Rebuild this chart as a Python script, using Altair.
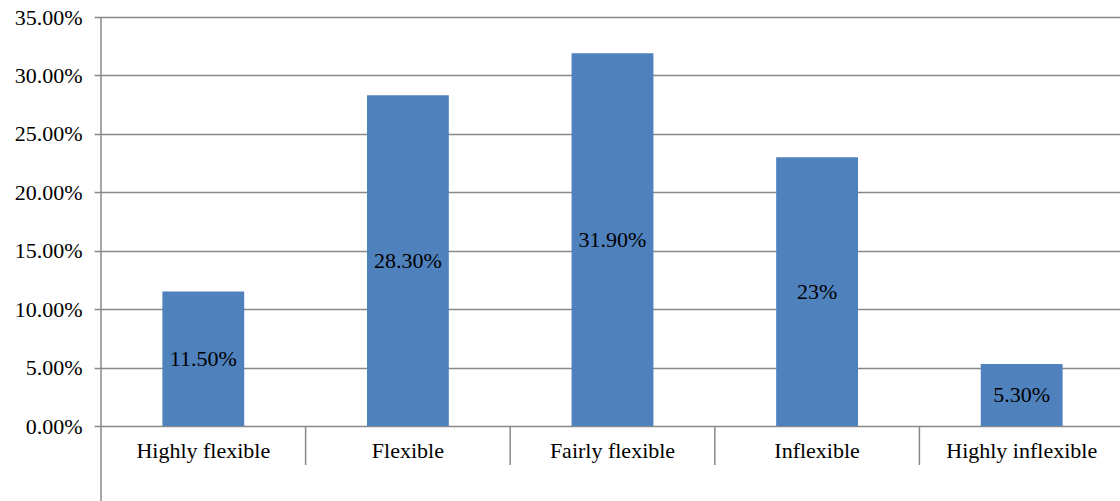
import altair as alt
import pandas as pd

# Survey responses: how flexible respondents rated the schedule
categories = ["Highly flexible", "Flexible", "Fairly flexible", "Inflexible", "Highly inflexible"]
shares = [0.115, 0.283, 0.319, 0.23, 0.053]
share_labels = ["11.50%", "28.30%", "31.90%", "23%", "5.30%"]
y_ticks = [0.0, 0.05, 0.10, 0.15, 0.20, 0.25, 0.30, 0.35]

df = pd.DataFrame({"category": categories, "share": shares, "label": share_labels})
df["mid"] = df["share"] / 2

FONT = "'Liberation Serif', 'Times New Roman', serif"
FONT_SIZE = 22
GRID = "#898989"
BAR = "#4F81BD"

PLOT_W = 1019          # visible plot area
BAND_SPAN = 1023       # category slots run slightly past the right edge
STEP = BAND_SPAN / len(categories)
PAD_INNER = 0.6

x_scale = alt.Scale(paddingInner=PAD_INNER, paddingOuter=PAD_INNER / 2, range=[0, BAND_SPAN])

x_enc = alt.X(
    "category:N",
    sort=categories,
    scale=x_scale,
    axis=alt.Axis(
        title=None, labelAngle=0, ticks=False, domain=False,
        labelFont=FONT, labelFontSize=FONT_SIZE, labelColor="black",
        labelPadding=14, labelLimit=0,
    ),
)

y_scale = alt.Scale(domain=[0, 0.35], nice=False)

bars = alt.Chart(df).mark_bar(color=BAR).encode(
    x=x_enc,
    y=alt.Y(
        "share:Q",
        scale=y_scale,
        axis=alt.Axis(
            title=None, values=y_ticks, format=".2%", domain=False,
            grid=True, gridColor=GRID, gridWidth=1.5,
            tickColor=GRID, tickWidth=1.5, tickSize=7,
            labelFont=FONT, labelFontSize=FONT_SIZE, labelColor="black",
            labelPadding=12,
        ),
    ),
)

labels = alt.Chart(df).mark_text(font=FONT, fontSize=FONT_SIZE, color="black").encode(
    x=alt.X("category:N", sort=categories),
    y=alt.Y("mid:Q", scale=y_scale),
    text="label:N",
)

# category separators below the baseline, at the start of each category slot
separators = alt.Chart(df.iloc[1:]).mark_rule(color=GRID, strokeWidth=1.5).encode(
    x=alt.X("category:N", sort=categories, bandPosition=0),
    xOffset=alt.value(-STEP * PAD_INNER / 2),
    y=alt.value(409),
    y2=alt.value(448),
)

# vertical axis line running past the baseline
axis_line = alt.Chart(df.iloc[:1]).mark_rule(color=GRID, strokeWidth=1.5).encode(
    x=alt.value(0),
    y=alt.value(0),
    y2=alt.value(484),
)

chart = (
    alt.layer(bars, labels, separators, axis_line)
    .properties(
        width=PLOT_W,
        height=409,
        autosize=alt.AutoSizeParams(type="none"),
        padding={"left": 101, "top": 17, "right": 0, "bottom": 75},
    )
    .configure_view(stroke=None)
)

chart.save("out.html", embed_options={"renderer": "svg", "actions": False})
